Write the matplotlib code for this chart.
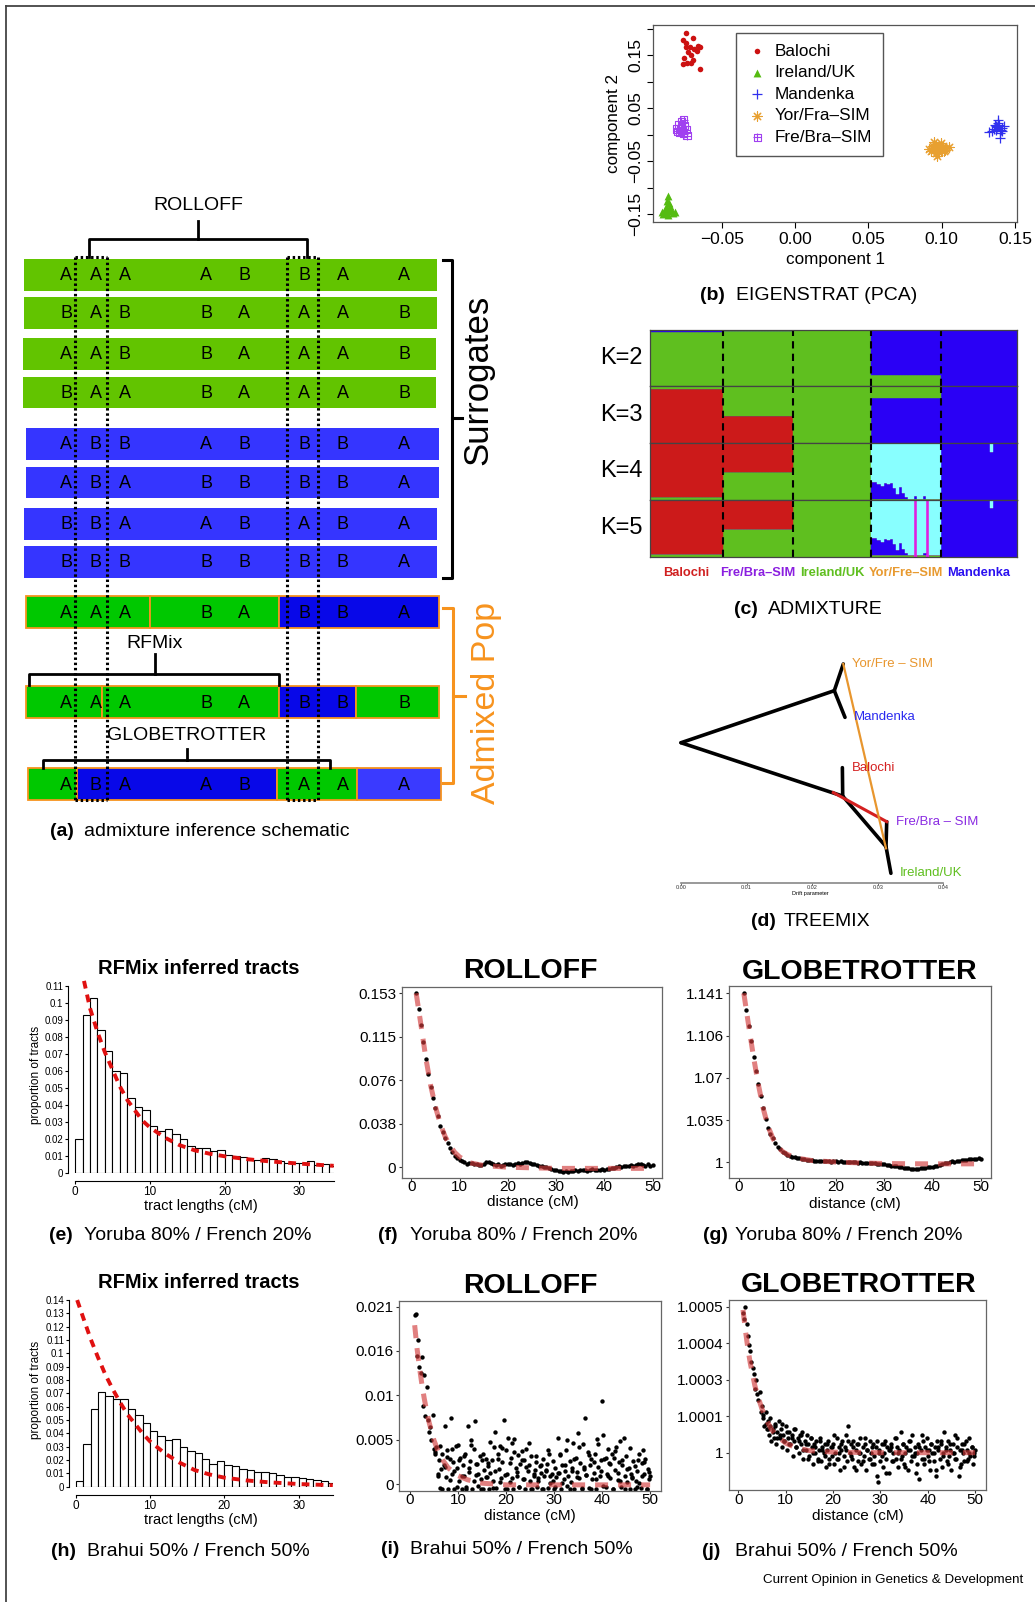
import numpy as np
import matplotlib
matplotlib.use('Agg')
import matplotlib.pyplot as plt
from matplotlib.patches import Rectangle

plt.rcParams['font.family'] = ['Liberation Sans', 'DejaVu Sans']

W, H = 1035, 1602

# ---------------- (a) schematic ----------------
surrogate_haps = ['AAAABBAA', 'BABBAAAB', 'AABBAAAB', 'BAABAAAB',
                  'ABBABBBA', 'ABABBBBA', 'BBAABABA', 'BBBBBBBA']
surrogate_pop = ['g', 'g', 'g', 'g', 'b', 'b', 'b', 'b']
admixed_haps = ['AAABABBA', 'AAABABBB', 'ABAABAAA']
# ancestry tracts along each admixed haplotype (start, end, source)
admixed_tracts = [
    [(26, 150, 'g'), (150, 279, 'g'), (279, 439, 'b')],
    [(26, 102, 'g'), (102, 279, 'g'), (279, 356, 'b'), (356, 439, 'g')],
    [(28, 77, 'g'), (77, 277, 'b'), (277, 357, 'g'), (357, 441, 'l')],
]

# ---------------- (b) PCA ----------------
pca_groups = ['Balochi', 'Ireland/UK', 'Mandenka', 'Yor/Fra\u2013SIM', 'Fre/Bra\u2013SIM']
pca_bal_x = [-0.0742, -0.0765, -0.0697, -0.0747, -0.0720, -0.0663, -0.0686, -0.0731, -0.0708,
             -0.0760, -0.0697, -0.0738, -0.0765, -0.0651, -0.0708, -0.0670, -0.0747, -0.0647]
pca_bal_y = [0.1919, 0.1781, 0.1813, 0.1719, 0.1656, 0.1669, 0.1606, 0.1563, 0.1500,
             0.1438, 0.1406, 0.1356, 0.1325, 0.1231, 0.1344, 0.1581, 0.1644, 0.1644]
pca_ire_x = [-0.0867, -0.0874, -0.0860, -0.0883, -0.0851, -0.0890, -0.0856, -0.0874,
             -0.0901, -0.0833, -0.0867, -0.0844, -0.0878, -0.0822, -0.0906]
pca_ire_y = [-0.1156, -0.1250, -0.1281, -0.1356, -0.1344, -0.1438, -0.1406, -0.1469,
             -0.1500, -0.1481, -0.1519, -0.1438, -0.1394, -0.1456, -0.1456]
pca_man_x = [0.1369, 0.1392, 0.1357, 0.1403, 0.1380, 0.1346, 0.1414, 0.1387, 0.1396,
             0.1373, 0.1426, 0.1323, 0.1364, 0.1410, 0.1382, 0.1396]
pca_man_y = [0.0156, 0.0188, 0.0106, 0.0094, 0.0144, 0.0063, 0.0125, 0.0219, 0.0031,
             0.0081, 0.0169, 0.0044, 0.0188, 0.0063, 0.0281, -0.0063]
pca_yor_x = [0.0938, 0.0960, 0.0983, 0.1006, 0.1028, 0.0949, 0.0972, 0.0994, 0.0926, 0.1017,
             0.0960, 0.0983, 0.0942, 0.1001, 0.1051, 0.0915, 0.0965, 0.0949, 0.0994, 0.0978, 0.1024]
pca_yor_y = [-0.0219, -0.0188, -0.0231, -0.0206, -0.0250, -0.0281, -0.0269, -0.0294, -0.0313, -0.0313,
             -0.0344, -0.0331, -0.0250, -0.0250, -0.0231, -0.0269, -0.0394, -0.0144, -0.0156, -0.0313, -0.0281]
pca_fre_x = [-0.0776, -0.0760, -0.0792, -0.0754, -0.0776, -0.0806, -0.0742, -0.0788,
             -0.0760, -0.0738, -0.0799, -0.0770]
pca_fre_y = [0.0250, 0.0281, 0.0188, 0.0169, 0.0125, 0.0106, 0.0094, 0.0044,
             0.0019, -0.0019, 0.0063, 0.0081]

# ---------------- (c) ADMIXTURE ----------------
adm_groups = ['Balochi', 'Fre/Bra\u2013SIM', 'Ireland/UK', 'Yor/Fre\u2013SIM', 'Mandenka']
adm_n = [24, 23, 26, 23, 25]
adm_K = [2, 3, 4, 5]
adm_order = {2: 'gb', 3: 'rbg', 4: 'gbrc', 5: 'gmbrc'}   # bottom -> top
adm_frac = {
    2: [[0.95, 0.05], [0.98, 0.02], [1, 0], [0.20, 0.80], [0, 1]],
    3: [[0.95, 0, 0.05], [0.48, 0, 0.52], [0, 0, 1], [0, 0.80, 0.20], [0, 1, 0]],
    4: [[0.05, 0, 0.95, 0], [0.49, 0, 0.51, 0], [1, 0, 0, 0], [0.02, 0, 0, 0.98], [0, 1, 0, 0]],
    5: [[0.05, 0, 0, 0.95, 0], [0.49, 0, 0, 0.51, 0], [1, 0, 0, 0, 0],
        [0.02, 0.01, 0, 0, 0.97], [0, 0, 1, 0, 0]],
}
yorfre_blue = [0.30, 0.30, 0.26, 0.22, 0.27, 0.26, 0.27, 0.19, 0.08, 0.20, 0.10, 0.03,
               0.0, 0.0, 0.04, 0.0, 0.0, 0.04, 0.0, 0.0, 0.0, 0.0, 0.0]
yorfre_magenta = [14, 18]
mandenka_cyan = (16, 0.15)

# ---------------- (d) TREEMIX ----------------
tm_nodes = {'root': (0.0, 0.640), 'n_up': (0.02337, 0.878), 'Yor': (0.02474, 1.0),
            'Man': (0.0250, 0.756), 'n_low': (0.02465, 0.396), 'Bal': (0.0246, 0.526),
            'n_eu': (0.03125, 0.165), 'Fre': (0.03136, 0.279), 'Ire': (0.0320, 0.043)}
tm_edges = [('root', 'n_up'), ('n_up', 'Yor'), ('n_up', 'Man'), ('root', 'n_low'),
            ('n_low', 'Bal'), ('n_low', 'n_eu'), ('n_eu', 'Fre'), ('n_eu', 'Ire')]
tm_migrations = [((0.02322, 0.412), (0.03136, 0.279), '#D42020'),
                 ((0.02474, 1.0), (0.03125, 0.157), '#E8962E')]
tm_labels = [('Yor/Fre \u2013 SIM', 'Yor', '#E8962E'), ('Mandenka', 'Man', '#2A2AF0'),
             ('Balochi', 'Bal', '#D42020'), ('Fre/Bra \u2013 SIM', 'Fre', '#8A2BE2'),
             ('Ireland/UK', 'Ire', '#5FBF1F')]

# ---------------- (e)/(h) RFMix tract histograms ----------------
hist_e = [0.020, 0.093, 0.103, 0.084, 0.072, 0.060, 0.059, 0.044, 0.039, 0.037,
          0.028, 0.025, 0.026, 0.023, 0.020, 0.016, 0.015, 0.015, 0.013, 0.0135,
          0.011, 0.010, 0.0095, 0.0078, 0.008, 0.0088, 0.0082, 0.007, 0.006, 0.006,
          0.006, 0.0072, 0.005, 0.0055, 0.0045]
fit_e_x = [1.2, 2, 3, 4, 5, 6, 7, 8, 9, 10, 12, 14, 16, 18, 20, 23, 26, 30, 34.6]
fit_e_y = [0.113, 0.097, 0.083, 0.071, 0.061, 0.051, 0.043, 0.037, 0.031, 0.027,
           0.021, 0.0165, 0.0135, 0.0115, 0.0100, 0.0083, 0.0070, 0.0057, 0.0044]
hist_h = [0.004, 0.032, 0.058, 0.071, 0.068, 0.066, 0.066, 0.058, 0.054, 0.048,
          0.042, 0.038, 0.035, 0.036, 0.030, 0.027, 0.025, 0.021, 0.017, 0.019,
          0.016, 0.0155, 0.0135, 0.0128, 0.011, 0.011, 0.010, 0.0085, 0.0075, 0.007,
          0.0065, 0.006, 0.0048, 0.0043, 0.003]
fit_h_x = [0.2, 1, 2, 3, 4, 5, 6, 7, 8, 9, 10, 12, 14, 16, 18, 20, 23, 26, 30, 34.6]
fit_h_y = [0.140, 0.127, 0.111, 0.097, 0.084, 0.073, 0.063, 0.054, 0.047, 0.040,
           0.034, 0.025, 0.018, 0.0125, 0.0092, 0.0068, 0.0047, 0.0033, 0.0020, 0.0011]

# ---------------- (f)/(g) Yoruba/French decay curves ----------------
roll_f = [0.153, 0.139, 0.125, 0.110, 0.095, 0.082, 0.071, 0.061, 0.052, 0.045,
          0.036, 0.031, 0.026, 0.021, 0.017, 0.013, 0.010, 0.0085, 0.0065, 0.0052,
          0.0045, 0.0030, 0.0040, 0.0035, 0.0025, 0.0030, 0.0022, 0.0020, 0.0028, 0.0045,
          0.0050, 0.0035, 0.0030, 0.0020, 0.0025, 0.0015, 0.0020, 0.0028, 0.0030, 0.0025,
          0.0020, 0.0032, 0.0040, 0.0030, 0.0035, 0.0045, 0.0050, 0.0040, 0.0030, 0.0025,
          0.0020, 0.0010, 0.0015, 0.0005, 0.0000, -0.0010, -0.0015, -0.0020, -0.0025, -0.0030,
          -0.0035, -0.0040, -0.0035, -0.0038, -0.0030, -0.0032, -0.0028, -0.0030, -0.0025, -0.0020,
          -0.0028, -0.0030, -0.0022, -0.0018, -0.0025, -0.0020, -0.0028, -0.0015, -0.0020, -0.0012,
          -0.0018, -0.0010, -0.0005, 0.0000, 0.0010, 0.0005, 0.0015, 0.0008, 0.0010, 0.0018,
          0.0012, 0.0020, 0.0025, 0.0030, 0.0020, 0.0015, 0.0025, 0.0010, 0.0020]
fit_fg_x = [1, 2, 3, 4, 5, 6, 7, 8, 9, 10, 12, 15, 20, 25, 30, 35, 40, 45, 50]
fit_f_y = [0.153, 0.125, 0.096, 0.072, 0.053, 0.038, 0.027, 0.019, 0.013, 0.009,
           0.004, 0.0015, 0.0, -0.0005, -0.001, -0.001, -0.001, -0.001, -0.001]
glob_g = [1.141, 1.127, 1.114, 1.101, 1.088, 1.076, 1.065, 1.055, 1.045, 1.036,
          1.029, 1.024, 1.020, 1.016, 1.013, 1.011, 1.009, 1.0075, 1.0065, 1.0055,
          1.0048, 1.0042, 1.0036, 1.0032, 1.0030, 1.0026, 1.0022, 1.0020, 1.0018, 1.0015,
          1.0012, 1.0014, 1.0010, 1.0012, 1.0008, 1.0010, 1.0006, 1.0009, 1.0007, 1.0004,
          1.0008, 1.0005, 1.0002, 1.0006, 1.0003, 0.9999, 1.0002, 0.9998, 1.0000, 0.9996,
          0.9994, 0.9997, 0.9992, 0.9990, 0.9993, 0.9988, 0.9985, 0.9982, 0.9986, 0.9978,
          0.9975, 0.9972, 0.9968, 0.9965, 0.9962, 0.9958, 0.9955, 0.9952, 0.9950, 0.9946,
          0.9944, 0.9946, 0.9948, 0.9950, 0.9952, 0.9955, 0.9958, 0.9960, 0.9962, 0.9968,
          0.9972, 0.9978, 0.9985, 0.9992, 0.9998, 1.0004, 1.0008, 1.0006, 1.0010, 1.0014,
          1.0018, 1.0016, 1.0020, 1.0024, 1.0028, 1.0030, 1.0026, 1.0032, 1.0024]
fit_g_y = [1.141, 1.114, 1.088, 1.065, 1.045, 1.030, 1.020, 1.013, 1.009, 1.0065,
           1.0035, 1.0015, 1.0002, 0.9995, 0.9990, 0.9988, 0.9987, 0.9987, 0.9987]

# ---------------- (i)/(j) Brahui/French decay curves ----------------
roll_i = [0.0200, 0.0201, 0.0151, 0.0170, 0.0139, 0.0132, 0.0150, 0.0092, 0.0129, 0.0080,
          0.0115, 0.0076, 0.0062, 0.0068, 0.0052, 0.0082, 0.0042, 0.0036, 0.0044, 0.0009,
          0.0028, -0.0005, 0.0018, 0.0035, 0.0022, 0.0069, 0.0008, 0.0040, -0.0006, 0.0030,
          0.0078, 0.0012, 0.0026, -0.0006, 0.0045, 0.0019, 0.0046, 0.0004, 0.0031, -0.0006,
          0.0022, 0.0009, 0.0036, -0.0004, 0.0069, 0.0014, 0.0027, 0.0052, -0.0006, 0.0041,
          0.0075, 0.0011, 0.0024, -0.0002, 0.0033, 0.0006, 0.0028, -0.0006, 0.0017, 0.0030,
          0.0008, 0.0025, -0.0006, 0.0013, 0.0029, 0.0003, 0.0044, 0.0061, -0.0005, 0.0035,
          0.0018, 0.0045, 0.0007, 0.0026, 0.0076, -0.0006, 0.0040, 0.0012, 0.0054, 0.0002,
          0.0031, 0.0048, -0.0006, 0.0053, 0.0019, 0.0009, 0.0034, -0.0003, 0.0024, 0.0039,
          0.0006, 0.0028, -0.0006, 0.0042, 0.0015, 0.0022, 0.0004, 0.0033, -0.0006, 0.0010,
          0.0017, 0.0026, -0.0004, 0.0007, 0.0021, 0.0013, -0.0006, 0.0030, 0.0009, 0.0016,
          0.0024, -0.0005, 0.0035, 0.0001, 0.0012, 0.0004, -0.0006, 0.0019, 0.0008, 0.0055,
          0.0013, 0.0034, -0.0006, 0.0023, 0.0006, 0.0016, 0.0040, -0.0002, 0.0009, 0.0027,
          0.0002, 0.0019, 0.0049, -0.0006, 0.0031, 0.0014, 0.0060, 0.0007, 0.0025, -0.0006,
          0.0047, 0.0018, 0.0078, 0.0011, 0.0038, -0.0005, 0.0023, 0.0030, 0.0006, 0.0013,
          0.0036, -0.0006, 0.0053, 0.0020, 0.0009, 0.0028, 0.0098, 0.0058, 0.0030, -0.0004,
          0.0012, 0.0041, 0.0025, 0.0007, 0.0036, -0.0006, 0.0031, 0.0017, 0.0044, 0.0005,
          0.0026, 0.0051, -0.0003, 0.0022, 0.0055, 0.0010, 0.0033, 0.0002, 0.0019, -0.0006,
          0.0012, 0.0008, 0.0027, -0.0006, 0.0004, 0.0016, 0.0028, 0.0001, -0.0005, 0.0025,
          0.0040, 0.0012, 0.0030, -0.0006, 0.0018, 0.0006, 0.0009]
# second batch of (i) points, at 5.25, 5.75, ..., 49.75 cM
roll_i_extra = [0.0038, 0.0012, 0.0045, -0.0006, 0.0020, 0.0032, 0.0005, 0.0041, 0.0015, -0.0004,
                0.0028, 0.0010, 0.0033, -0.0006, 0.0019, 0.0046, 0.0003, 0.0024, 0.0012, -0.0006,
                0.0035, 0.0008, 0.0021, 0.0050, -0.0005, 0.0016, 0.0030, 0.0002, 0.0043, 0.0011,
                -0.0006, 0.0025, 0.0007, 0.0038, 0.0014, -0.0003, 0.0029, 0.0006, 0.0020, 0.0048,
                -0.0006, 0.0012, 0.0033, 0.0004, 0.0022, -0.0006, 0.0017, 0.0040, 0.0009, 0.0027,
                -0.0004, 0.0013, 0.0036, 0.0001, 0.0023, 0.0052, -0.0006, 0.0015, 0.0030, 0.0008,
                0.0044, -0.0005, 0.0020, 0.0011, 0.0034, -0.0006, 0.0026, 0.0006, 0.0047, 0.0016,
                -0.0002, 0.0031, 0.0009, 0.0024, -0.0006, 0.0039, 0.0013, 0.0003, 0.0028, -0.0006,
                0.0018, 0.0043, 0.0007, 0.0021, -0.0004, 0.0035, 0.0010, 0.0026, -0.0006, 0.0014]
fit_ij_x = [1, 1.5, 2, 2.5, 3, 3.5, 4, 5, 6, 7, 8, 10, 12, 15, 20, 30, 40, 50]
fit_i_y = [0.0188, 0.0160, 0.0138, 0.0118, 0.0101, 0.0086, 0.0073, 0.0052, 0.0037,
           0.0027, 0.0019, 0.0010, 0.0005, 0.0001, -0.0001, -0.0001, -0.0001, -0.0001]
# GLOBETROTTER (j): value minus 1, in units of 1e-5
glob_j = [48, 46, 50, 44, 40, 37, 35, 31, 29, 27,
          22, 25, 20, 18, 21, 14, 16, 12, 9, 14,
          8, 11, 6, 9, 4, 8, 5, 10, 3, 7,
          11, 5, 8, 2, 6, 4, 9, 1, 5, 7,
          3, 6, -1, 4, 8, 2, 5, 0, 6, 3,
          7, -2, 4, 1, 6, 3, -1, 5, 2, -4,
          3, 0, 4, -2, 1, 5, -3, 2, 0, 3,
          -5, 1, 4, -2, 2, -1, 3, -4, 0, 5,
          -2, 2, -6, 1, 4, -1, 2, 6, -3, 9,
          0, 3, -2, 4, -5, 1, 3, -3, 0, 5,
          -4, 2, -1, 3, -6, 1, -2, 4, 0, -4,
          3, -1, 2, -8, -10, 1, -3, 3, -5, 0,
          4, -2, 2, -7, 1, 3, -3, 0, 5, -2,
          2, -5, 1, 7, -1, 3, -4, 0, 2, -6,
          4, 1, -3, 6, -1, 2, -7, 0, 3, -9,
          1, -2, 4, -4, 2, 5, -1, 1, -6, 3,
          0, -3, 2, -8, 4, 1, -2, 3, -5, 0,
          7, 2, -3, 4, -1, 1, -6, 3, 0, 6,
          -2, 2, -8, 1, -4, 3, 0, -3, 4, 1,
          -2, 5, -1, 2, -4, 0, 1]
glob_j_extra = [13, 10, 8, 12, 7, 9, 5, 6, 10, 4,
                7, 3, 5, 8, 2, 4, 6, 1, 3, -2,
                5, 0, 2, -3, 4, 1, -1, 3, -4, 2,
                6, -2, 0, 3, -5, 1, 4, -1, 2, -6,
                3, 0, -3, 5, 1, -2, 2, -4, 4, 0,
                -1, 3, -7, 1, 2, -3, 5, 0, -2, 3,
                -5, 1, 4, -1, 0, -4, 2, 6, -2, 1,
                -3, 3, 0, -6, 2, 4, -1, 1, -4, 3,
                0, -2, 5, -5, 1, 3, -3, 0, 2, -1]
fit_j_y = [49, 42, 36, 31, 27, 23, 20, 15, 11, 8, 6, 3.3, 1.8, 0.7, 0.2, 0, 0, 0]


fig = plt.figure(figsize=(W / 100, H / 100), dpi=100)


def add_ax(x0, y0, x1, y1):
    # pixel box -> figure fraction
    return fig.add_axes([x0 / W, 1 - y1 / H, (x1 - x0) / W, (y1 - y0) / H])


ov = fig.add_axes([0, 0, 1, 1])
ov.set_xlim(0, W)
ov.set_ylim(H, 0)
ov.axis('off')

# frame
ov.plot([6, 6], [6, H], color='#444444', lw=1.3)
ov.plot([6, W], [6, 6], color='#444444', lw=1.3)

# ---------- schematic ----------
sch_cols = {'g': '#62C400', 'b': '#3535FF'}
adm_cols = {'g': '#00C800', 'b': '#0808E8', 'l': '#3A3AFF'}
snp_x = [66, 95.5, 124.5, 206, 244, 304, 343, 404]
sur_top = [259, 297.3, 338.3, 376.7, 428.3, 466.7, 508.3, 546]
sur_left = [24.3, 24.3, 22.7, 22.7, 26, 26, 24.3, 24.3]
for hap, pop, top, left in zip(surrogate_haps, surrogate_pop, sur_top, sur_left):
    ov.add_patch(Rectangle((left, top), 413, 31.5, facecolor=sch_cols[pop], edgecolor='none'))
    for a, x in zip(hap, snp_x):
        ov.text(x, top + 16.5, a, fontsize=13, ha='center', va='center')

adm_top = [596, 686, 768.3]
for hap, tracts, top in zip(admixed_haps, admixed_tracts, adm_top):
    for s, e, src in tracts:
        ov.add_patch(Rectangle((s, top), e - s, 32, facecolor=adm_cols[src],
                               edgecolor='#F7931E', lw=1.3))
    for a, x in zip(hap, snp_x):
        ov.text(x, top + 17, a, fontsize=13, ha='center', va='center')

# windows compared by ROLLOFF
dot = dict(color='black', lw=2.2, ls=(0, (0.8, 0.9)), zorder=5)
for x in [75, 106.7, 286.7, 318.3]:
    ov.plot([x, x], [257, 800], **dot)
for xa, xb in [(75, 106.7), (286.7, 318.3)]:
    ov.plot([xa, xb], [257, 257], **dot)
    ov.plot([xa, xb], [800, 800], **dot)


def bracket(xl, xr, ybar, ylegs, xc, ystem, label, ylab):
    ov.plot([xl, xl, xr, xr], [ylegs, ybar, ybar, ylegs], color='black', lw=2)
    ov.plot([xc, xc], [ybar, ystem], color='black', lw=2)
    ov.text(xc, ylab, label, fontsize=14, ha='center', va='center')


bracket(89.3, 306.7, 239.3, 256.7, 198.3, 220.7, 'ROLLOFF', 205)
bracket(29.3, 279.3, 674, 685, 155, 654, 'RFMix', 643.3)
bracket(43.3, 330, 760, 768.3, 186.7, 749.3, 'GLOBETROTTER', 736)

ov.plot([443.3, 452.3, 452.3, 443.3], [260, 260, 577.7, 577.7], color='black', lw=2.2)
ov.plot([452.3, 461.7], [418.3, 418.3], color='black', lw=2.2)
ov.text(478.3, 380, 'Surrogates', fontsize=25, rotation=90, ha='center', va='center')
ov.plot([443.3, 453.3, 453.3, 443.3], [608.3, 608.3, 782.7, 782.7], color='#F7931E', lw=2.2)
ov.plot([453.3, 465], [696, 696], color='#F7931E', lw=2.2)
ov.text(486.7, 703.3, 'Admixed Pop', fontsize=24.5, rotation=90, ha='center', va='center',
        color='#F7931E')


def caption(xb, xt, y, tag, text):
    ov.text(xb, y, tag, fontsize=14, weight='bold', ha='left', va='center')
    ov.text(xt, y, text, fontsize=14, ha='left', va='center')


caption(50, 84, 832, '(a)', 'admixture inference schematic')
caption(700, 736, 296, '(b)', 'EIGENSTRAT (PCA)')
caption(734, 768, 610, '(c)', 'ADMIXTURE')
caption(751, 784, 922, '(d)', 'TREEMIX')
caption(49, 84, 1236, '(e)', 'Yoruba 80% / French 20%')
caption(378, 410, 1236, '(f)', 'Yoruba 80% / French 20%')
caption(703, 735, 1236, '(g)', 'Yoruba 80% / French 20%')
caption(50.7, 87.3, 1551, '(h)', 'Brahui 50% / French 50%')
caption(380.7, 410, 1550, '(i)', 'Brahui 50% / French 50%')
caption(701.7, 735, 1551, '(j)', 'Brahui 50% / French 50%')
ov.text(763, 1580.5, 'Current Opinion in Genetics & Development', fontsize=9.6, ha='left', va='center')

# ---------- (b) PCA ----------
ax = add_ax(653, 25, 1017, 222)
h1 = ax.scatter(pca_bal_x, pca_bal_y, s=16, color='#CC1111', linewidths=0)
h2 = ax.scatter(pca_ire_x, pca_ire_y, s=32, marker='^', color='#55BB11', linewidths=0)
h3 = ax.scatter(pca_man_x, pca_man_y, s=55, marker='+', color='#3030EE', linewidths=0.9)
h4 = ax.scatter(pca_yor_x, pca_yor_y, s=45, marker=(8, 2, 0), color='#E8A030', linewidths=0.8)
h5a = ax.scatter(pca_fre_x, pca_fre_y, s=28, marker='s', facecolors='none', edgecolors='#A040F0',
                 linewidths=0.8)
h5b = ax.scatter(pca_fre_x, pca_fre_y, s=28, marker='+', color='#A040F0', linewidths=0.8)
ax.set_xlim(-0.0969, 0.1514)
ax.set_ylim(-0.1645, 0.2066)
ax.set_xticks([-0.05, 0, 0.05, 0.10, 0.15])
ax.set_xticklabels(['\u22120.05', '0.00', '0.05', '0.10', '0.15'])
ax.set_yticks([-0.15, -0.10, -0.05, 0, 0.05, 0.10, 0.15, 0.20])
ax.set_yticklabels(['\u22120.15', '', '\u22120.05', '', '0.05', '', '0.15', ''], rotation=90, va='center')
ax.tick_params(direction='out', length=4, width=0.8, labelsize=12.5, pad=3)
for s in ax.spines.values():
    s.set_color('#555555')
    s.set_linewidth(0.9)
ax.set_xlabel('component 1', fontsize=12.3, labelpad=4)
ax.set_ylabel('component 2', fontsize=12.3, labelpad=5)
ax.legend([h1, h2, h3, h4, (h5a, h5b)], pca_groups, loc='upper left',
          bbox_to_anchor=(736 / W, 1 - 32.7 / H), bbox_transform=fig.transFigure,
          fancybox=False, edgecolor='#555555', framealpha=1, fontsize=12.3, labelspacing=0.38,
          handletextpad=0.4, handlelength=1.2, borderpad=0.65, borderaxespad=0, scatterpoints=1)

# ---------- (c) ADMIXTURE ----------
anc_cols = {'r': '#CC1A1A', 'g': '#5FBF1F', 'b': '#2A00F5', 'c': '#88FFFF', 'm': '#E01EE0'}
grp_cols = ['#D02020', '#8B1FE0', '#5FBF1F', '#E89A30', '#2A10F0']
n_tot = sum(adm_n)
starts = np.cumsum([0] + adm_n)
row_h = (556.5 - 329.5) / 4
for r, K in enumerate(adm_K):
    order = adm_order[K]
    Q = np.zeros((n_tot, len(order)))
    for g in range(len(adm_n)):
        Q[starts[g]:starts[g + 1]] = adm_frac[K][g]
    if K >= 4:
        ib, ic = order.index('b'), order.index('c')
        for j, v in enumerate(yorfre_blue):
            i = starts[3] + j
            Q[i, ib] = v
            Q[i, ic] = 0
            Q[i, ic] = 1 - Q[i].sum()
        i = starts[4] + mandenka_cyan[0]
        Q[i, ib] = 1 - mandenka_cyan[1]
        Q[i, ic] = mandenka_cyan[1]
    if K == 5:
        im = order.index('m')
        for j in yorfre_magenta:
            i = starts[3] + j
            Q[i] = 0
            Q[i, im] = 1
    ax = add_ax(650, 329.5 + r * row_h, 1017, 329.5 + (r + 1) * row_h)
    bottom = np.zeros(n_tot)
    for k, c in enumerate(order):
        ax.bar(np.arange(n_tot), Q[:, k], width=1.0, align='edge', bottom=bottom,
               color=anc_cols[c], edgecolor=anc_cols[c], linewidth=0.3)
        bottom += Q[:, k]
    for b in starts[1:-1]:
        ax.axvline(b, color='black', lw=1.5, ls=(0, (3.5, 2.5)))
    ax.set_xlim(0, n_tot)
    ax.set_ylim(0, 1)
    ax.set_xticks([])
    ax.set_yticks([])
    for s in ax.spines.values():
        s.set_color('#444444')
        s.set_linewidth(0.9)
    ov.text(621.7, 329.5 + (r + 0.5) * row_h, 'K=%d' % K, fontsize=17, ha='center', va='center')
    if r == 3:
        for g, name in enumerate(adm_groups):
            ax.text((starts[g] + starts[g + 1]) / 2, -0.29, name, color=grp_cols[g], fontsize=9.3,
                    weight='bold', ha='center', va='center', transform=ax.transData)

# ---------- (d) TREEMIX ----------
ax = add_ax(660, 640, 960, 890)
ax.set_xlim(-0.0032, 0.04253)
ax.set_ylim(-0.0334, 1.1097)
for a, b in tm_edges:
    (x0, y0), (x1, y1) = tm_nodes[a], tm_nodes[b]
    ax.plot([x0, x1], [y0, y1], color='black', lw=2.6, solid_capstyle='round')
for (x0, y0), (x1, y1), c in tm_migrations:
    ax.plot([x0, x1], [y0, y1], color=c, lw=2.2 if c == '#D42020' else 1.6)
for name, node, c in tm_labels:
    x, y = tm_nodes[node]
    ax.text(x + 0.0014, y, name, color=c, fontsize=9.5, ha='left', va='center')
for s in ['top', 'right', 'left']:
    ax.spines[s].set_visible(False)
ax.spines['bottom'].set_position(('data', 0))
ax.spines['bottom'].set_bounds(0, 0.04)
ax.spines['bottom'].set_color('#888888')
ax.spines['bottom'].set_linewidth(1.2)
ax.set_xticks([0, 0.01, 0.02, 0.03, 0.04])
ax.set_xticklabels(['0.00', '0.01', '0.02', '0.03', '0.04'])
ax.set_yticks([])
ax.tick_params(axis='x', length=1.5, width=0.5, labelsize=4, pad=0.5, colors='#333333')
ax.set_xlabel('Drift parameter', fontsize=4, labelpad=0.5)
ax.patch.set_alpha(0)


# ---------- histograms ----------
def hist_panel(box, xmax, ytop, ymax_tick, heights, fx, fy, off, title_y):
    ax = add_ax(*box)
    ax.bar(np.arange(len(heights)), heights, width=1.0, align='edge', color='white',
           edgecolor='black', linewidth=0.8)
    ax.plot(fx, fy, color='#E01010', lw=2.8, ls=(0, (2.0, 1.6)), dash_capstyle='butt')
    ax.set_xlim(-0.9, xmax)
    ax.set_ylim(0, ytop)
    yt = np.round(np.arange(0, ymax_tick + 1e-9, 0.01), 2)
    ax.set_yticks(yt)
    ax.set_yticklabels([('%.2f' % v).rstrip('0').rstrip('.') for v in yt])
    ax.set_xticks([0, 10, 20, 30])
    ax.spines['top'].set_visible(False)
    ax.spines['right'].set_visible(False)
    ax.spines['left'].set_bounds(0, ymax_tick)
    ax.spines['bottom'].set_position(('outward', off))
    ax.spines['bottom'].set_bounds(0, xmax)
    ax.tick_params(axis='y', direction='out', length=2.5, width=0.8, labelsize=7, pad=1)
    ax.tick_params(axis='x', direction='out', length=2.5, width=0.8, labelsize=8.5, pad=1)
    ax.set_xlabel('tract lengths (cM)', fontsize=10.5, labelpad=1)
    ax.set_ylabel('proportion of tracts', fontsize=8.5, labelpad=2)
    ov.text(199, title_y, 'RFMix inferred tracts', fontsize=14.5, weight='bold',
            ha='center', va='center')
    return ax


hist_panel((68.3, 977.5, 333.7, 1173.3), 34.6, 0.115, 0.11, hist_e, fit_e_x, fit_e_y, 5.3, 969)
hist_panel((69, 1293.4, 332.8, 1486.7), 34.6, 0.145, 0.14, hist_h, fit_h_x, fit_h_y, 6.0, 1282)


# ---------- decay-curve panels ----------
def decay_panel(box, xlim, ylim, y, fx, fy, yticks, ylabels, title, tx, ty, est, ex, ey, lx, ly,
                extra=None):
    ax = add_ax(*box)
    x = np.linspace(1, 50, len(y))
    ax.scatter(x, y, s=10, color='black', linewidths=0, zorder=2)
    if extra is not None:
        ax.scatter(np.linspace(5.25, 49.75, len(extra)), extra, s=10, color='black',
                   linewidths=0, zorder=2)
    ax.plot(fx, fy, color='#D23C3C', lw=3.6, alpha=0.65, ls=(0, (2.6, 2.0)),
            dash_capstyle='butt', zorder=3)
    ax.set_xlim(*xlim)
    ax.set_ylim(*ylim)
    ax.set_xticks([0, 10, 20, 30, 40, 50])
    ax.set_yticks(yticks)
    ax.set_yticklabels(ylabels)
    for s in ax.spines.values():
        s.set_color('#666666')
        s.set_linewidth(0.9)
    ax.tick_params(direction='out', length=2.5, width=0.8, labelsize=11, color='#333333')
    ax.tick_params(axis='x', pad=-0.5)
    ax.tick_params(axis='y', pad=1.5)
    ov.text(tx, ty, title, fontsize=20.5, weight='bold', ha='center', va='center')
    ov.text(ex, ey, est, fontsize=22, ha='center', va='center')
    ov.text(lx, ly, 'distance (cM)', fontsize=11, ha='center', va='center')
    return ax


decay_panel((401.7, 986.7, 662.3, 1177.7), (-2, 52), (-0.0092, 0.1588), roll_f, fit_fg_x, fit_f_y,
            np.linspace(0, 0.153, 5), ['0', '0.038', '0.076', '0.115', '0.153'],
            'ROLLOFF', 530, 970.7, '29 \u00b1 2', 586.7, 1015, 532.7, 1202)
decay_panel((729.3, 986, 990.7, 1177.7), (-2, 52), (0.98715, 1.1471), glob_g, fit_fg_x, fit_g_y,
            np.linspace(1, 1.141, 5), ['1', '1.035', '1.07', '1.106', '1.141'],
            'GLOBETROTTER', 860, 971.7, '30 \u00b1 1', 910, 1015, 855, 1204)
decay_panel((399.3, 1300.7, 660.7, 1490.7), (-2.2, 52.2), (-0.00079, 0.0217), roll_i, fit_ij_x, fit_i_y,
            np.linspace(0, 0.021, 5), ['0', '0.005', '0.01', '0.016', '0.021'],
            'ROLLOFF', 530, 1286, '38 \u00b1 6', 586.7, 1328.3, 530, 1516,
            extra=roll_i_extra)
decay_panel((729.3, 1300, 986, 1490), (-1.9, 52.3), (0.999872, 1.000524),
            1 + np.array(glob_j) * 1e-5, fit_ij_x, 1 + np.array(fit_j_y) * 1e-5,
            np.linspace(1, 1.0005, 5), ['1', '1.0001', '1.0003', '1.0004', '1.0005'],
            'GLOBETROTTER', 858.3, 1285, '27 \u00b1 3', 910, 1328.3, 858.3, 1516,
            extra=1 + np.array(glob_j_extra) * 1e-5)

fig.savefig('out.png', dpi=100)
